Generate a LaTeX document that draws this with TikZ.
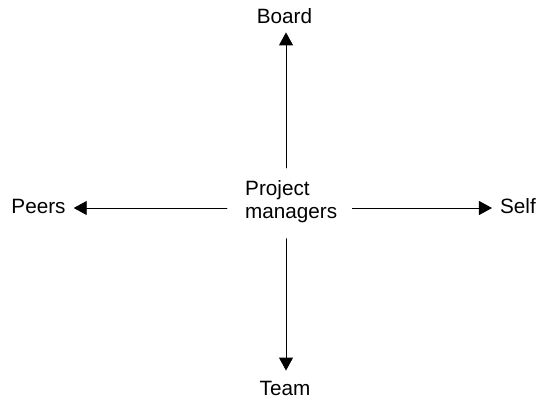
\documentclass[tikz,border=0pt]{standalone}
\usepackage{fontspec}
\setmainfont{Liberation Sans}
\usetikzlibrary{arrows.meta}

\begin{document}
\begin{tikzpicture}[line cap=round,line join=round,>={Triangle[length=13pt,width=14pt]},x=1pt,y=-1pt,
    font=\fontsize{20.7}{23}\selectfont,
    lbl/.style={inner sep=0pt},
    link/.style={->,line width=0.9pt}]
    \useasboundingbox (0,0) rectangle (537,399);
    % the names round the centre
    \node[lbl,anchor=base] (board) at (284.5,23) {Board};
    \node[lbl,anchor=base] (team) at (285,395) {Team};
    \node[lbl,anchor=base] (peers) at (38.5,213) {Peers};
    \node[lbl,anchor=base] (self) at (518,213) {Self};
    \node[lbl,anchor=north west,align=left] (pm) at (245,180) {Project\\managers};
    \coordinate (mid) at (286,208);
    % arrows out of the centre
    \draw[link,shorten <=12pt,shorten >=9pt] (pm.north -| mid) -- (board.south -| mid);
    \draw[link,shorten <=16pt,shorten >=10pt] (pm.south -| mid) -- (team.north -| mid);
    \draw[link,shorten <=18pt,shorten >=8pt] (pm.west |- mid) -- (peers.east |- mid);
    \draw[link,shorten <=15pt,shorten >=8pt] (pm.east |- mid) -- (self.west |- mid);
\end{tikzpicture}
\end{document}
